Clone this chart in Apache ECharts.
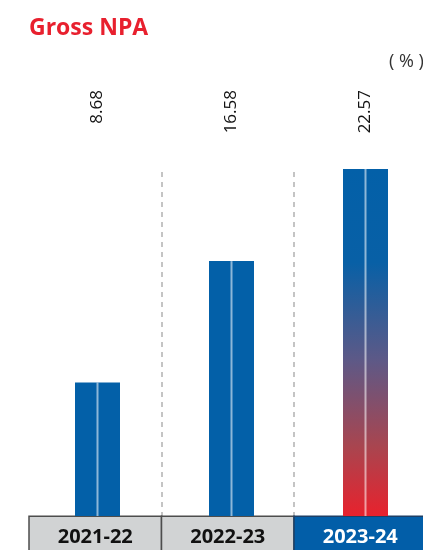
<!DOCTYPE html>
<html>
<head>
<meta charset="utf-8">
<script src="https://cdn.jsdelivr.net/npm/echarts@6/dist/echarts.min.js"></script>
<style>html,body{margin:0;padding:0;background:#fff;}#c{width:423px;height:550px;}</style>
</head>
<body>
<div id="c"></div>
<script>
const categories = ['2021-22', '2022-23', '2023-24'];
const grossNPA = [8.68, 16.58, 22.57];
const highlightIndex = 2;
const titleText = 'Gross NPA';
const unitText = '( % )';

const FONT = '"Open Sans", "Noto Sans", sans-serif';
const BLUE = '#0360a8';

const chart = echarts.init(document.getElementById('c'), null, {renderer: 'canvas'});

const gradient = new echarts.graphic.LinearGradient(0, 0, 0, 1, [
  {offset: 0, color: '#0360a8'},
  {offset: 0.27, color: '#0860a6'},
  {offset: 0.55, color: '#5d5987'},
  {offset: 0.8, color: '#a9454f'},
  {offset: 1, color: '#e8222d'}
]);

const barData = grossNPA.map((v, i) => i === highlightIndex
  ? {value: v, itemStyle: {color: gradient}}
  : {value: v});

chart.setOption({
  animation: false,
  backgroundColor: '#fff',
  title: [
    {text: titleText, left: 24, top: 12,
     textStyle: {color: '#e8202e', fontSize: 23, fontWeight: 'bold', fontFamily: FONT}},
    {text: unitText, left: 384, top: 48,
     textStyle: {color: '#333', fontSize: 18, fontWeight: 'normal', fontFamily: FONT}}
  ],
  grid: [
    {left: 29, top: 172, width: 397.5, height: 344, outerBoundsMode: 'none', containLabel: false},
    {left: 30.5, top: 169, width: 402, height: 347, outerBoundsMode: 'none', containLabel: false}
  ],
  xAxis: [
    {type: 'category', gridIndex: 0, data: categories, position: 'bottom',
     axisLine: {show: false}, axisTick: {show: false},
     splitLine: {show: true, showMinLine: false, showMaxLine: false,
       lineStyle: {color: '#c4c4c4', width: 2, type: [5, 5]}},
     axisLabel: {interval: 0, margin: 1, hideOverlap: false,
       formatter: (v, i) => (i === highlightIndex ? '{b|' : '{a|') + v + '}',
       rich: {
         a: {width: 131, height: 40, lineHeight: 40, align: 'center', verticalAlign: 'top',
             backgroundColor: '#d1d3d4', borderColor: '#4d4d4d', borderWidth: 1.5,
             color: '#111', fontSize: 20, fontWeight: 'bold', fontFamily: FONT},
         b: {width: 131, height: 40, lineHeight: 40, align: 'center', verticalAlign: 'top',
             backgroundColor: '#025ea8', borderColor: '#1d3f66', borderWidth: 1.5,
             color: '#fff', fontSize: 20, fontWeight: 'bold', fontFamily: FONT}
       }}},
    {type: 'category', gridIndex: 1, data: categories, show: false},
    {type: 'category', gridIndex: 1, data: categories, position: 'top',
     axisLine: {show: false}, axisTick: {show: false}, splitLine: {show: false},
     axisLabel: {interval: 0, rotate: -90, margin: 79, align: 'right', hideOverlap: false,
       formatter: (v, i) => grossNPA[i].toFixed(2),
       color: '#111', fontSize: 17, fontFamily: FONT}},
    {type: 'category', gridIndex: 1, data: categories, show: false}
  ],
  yAxis: [
    {type: 'value', gridIndex: 0, show: false, min: 0, max: 1, splitLine: {show: false}},
    {type: 'value', gridIndex: 1, show: false, min: 0, max: 'dataMax', splitLine: {show: false}}
  ],
  series: [
    {type: 'bar', xAxisIndex: 1, yAxisIndex: 1, data: barData, barWidth: 45,
     itemStyle: {color: BLUE}, z: 2},
    {type: 'bar', xAxisIndex: 3, yAxisIndex: 1, data: grossNPA, barWidth: 2,
     itemStyle: {color: 'rgba(255,255,255,0.55)'}, z: 3, silent: true}
  ]
});
</script>
</body>
</html>
